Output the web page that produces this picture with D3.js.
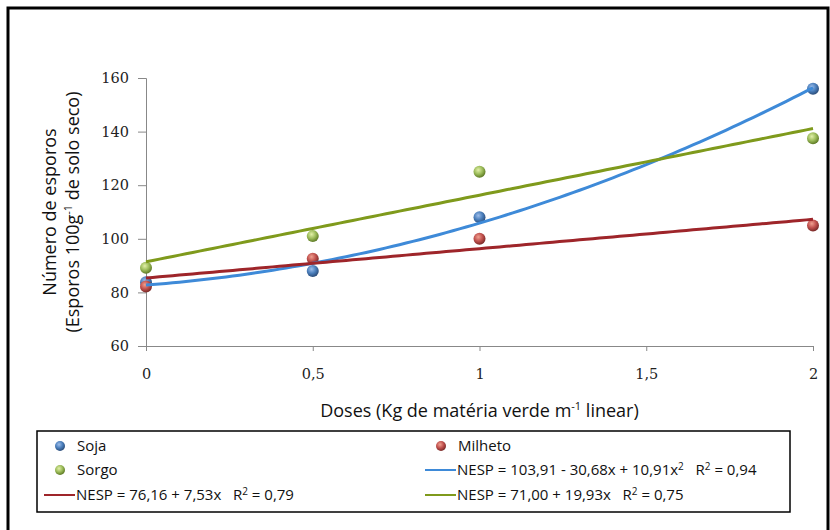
<!DOCTYPE html>
<html>
<head>
<meta charset="utf-8">
<script src="https://cdn.jsdelivr.net/npm/d3@7"></script>
<style>
  body { margin: 0; background: #fff; }
  .tick text { font-family: "DejaVu Serif", serif; font-size: 14.5px; fill: #222; }
  .axis-title { font-family: "Open Sans", sans-serif; font-size: 18px; fill: #111; }
  .legend-text { font-family: "Open Sans", sans-serif; font-size: 15px; fill: #111; }
</style>
</head>
<body>
<div id="chart"></div>
<script>
var svgWidth = 830;
var svgHeight = 530;

// data
var doses = [0, 0.5, 1, 2];
var soja = [83.8, 88, 108, 156];
var milheto = [82.2, 92.6, 100, 105];
var sorgo = [89.2, 101, 125, 137.5];

var xTicks = [0, 0.5, 1, 1.5, 2];
var yTicks = [60, 80, 100, 120, 140, 160];

var margin = { top: 78, right: 17, bottom: 184, left: 146 };
var width = svgWidth - margin.left - margin.right;
var height = svgHeight - margin.top - margin.bottom;

var svg = d3.select("#chart")
  .append("svg")
  .attr("width", svgWidth)
  .attr("height", svgHeight);

// outer frame
svg.append("rect")
  .attr("x", 8).attr("y", 8)
  .attr("width", 820).attr("height", 540)
  .attr("fill", "none")
  .attr("stroke", "#000")
  .attr("stroke-width", 3);

var defs = svg.append("defs");
function sphere(id, light, base, dark) {
  var g = defs.append("radialGradient")
    .attr("id", id)
    .attr("cx", "40%").attr("cy", "35%").attr("r", "65%");
  g.append("stop").attr("offset", "0%").attr("stop-color", light);
  g.append("stop").attr("offset", "55%").attr("stop-color", base);
  g.append("stop").attr("offset", "100%").attr("stop-color", dark);
}
sphere("gSoja", "#9dbdea", "#4a7ebb", "#2c4d7a");
sphere("gMilheto", "#f0a090", "#c0504d", "#7a2a28");
sphere("gSorgo", "#e2f0a8", "#9bbb59", "#5e7a25");

var chartGroup = svg.append("g")
  .attr("transform", `translate(${margin.left},${margin.top})`);

var xScale = d3.scaleLinear().domain([0, 2]).range([0, width]);
var yScale = d3.scaleLinear().domain([60, 160]).range([height, 0]);

var bottomAxis = d3.axisBottom(xScale)
  .tickValues(xTicks)
  .tickSize(5)
  .tickPadding(18)
  .tickFormat(d => String(d).replace(".", ","));
var leftAxis = d3.axisLeft(yScale)
  .tickValues(yTicks)
  .tickSize(8)
  .tickPadding(9);

var xAxis = chartGroup.append("g")
  .attr("transform", `translate(0, ${height})`)
  .call(bottomAxis);
var yAxis = chartGroup.append("g")
  .call(leftAxis);

[xAxis, yAxis].forEach(a => {
  a.select(".domain").attr("stroke", "#888");
  a.selectAll(".tick line").attr("stroke", "#888");
});

// least squares polynomial fit
function polyfit(xs, ys, deg) {
  var n = deg + 1;
  var A = [];
  for (var i = 0; i < n; i++) {
    A.push([]);
    for (var j = 0; j < n; j++) A[i].push(d3.sum(xs, x => Math.pow(x, i + j)));
    A[i].push(d3.sum(xs, (x, k) => Math.pow(x, i) * ys[k]));
  }
  for (var c = 0; c < n; c++) {
    for (var r = c + 1; r < n; r++) {
      var f = A[r][c] / A[c][c];
      for (var k = c; k <= n; k++) A[r][k] -= f * A[c][k];
    }
  }
  var coef = new Array(n).fill(0);
  for (var r2 = n - 1; r2 >= 0; r2--) {
    var s = A[r2][n];
    for (var k2 = r2 + 1; k2 < n; k2++) s -= A[r2][k2] * coef[k2];
    coef[r2] = s / A[r2][r2];
  }
  return x => coef.reduce((acc, cf, p) => acc + cf * Math.pow(x, p), 0);
}

var series = [
  { name: "Soja", values: soja, deg: 2, line: "#3e8ad8", fill: "url(#gSoja)" },
  { name: "Milheto", values: milheto, deg: 1, line: "#9e252a", fill: "url(#gMilheto)" },
  { name: "Sorgo", values: sorgo, deg: 1, line: "#7f9a1c", fill: "url(#gSorgo)" }
];

var lineGen = d3.line()
  .x(d => xScale(d[0]))
  .y(d => yScale(d[1]));

var samples = d3.range(0, 2.0001, 0.02);

// points first, trend lines drawn over them
var drawOrder = [series[0], series[2], series[1]];
drawOrder.forEach(s => {
  chartGroup.selectAll(null)
    .data(doses)
    .enter()
    .append("circle")
    .attr("cx", d => xScale(d))
    .attr("cy", (d, i) => yScale(s.values[i]))
    .attr("r", 6)
    .attr("fill", s.fill);
});

drawOrder.forEach(s => {
  var f = polyfit(doses, s.values, s.deg);
  chartGroup.append("path")
    .datum(samples.map(x => [x, f(x)]))
    .attr("d", lineGen)
    .attr("fill", "none")
    .attr("stroke", s.line)
    .attr("stroke-width", 3);
});

// axis titles
var xTitle = svg.append("text")
  .attr("class", "axis-title")
  .attr("x", margin.left + width / 2)
  .attr("y", 417)
  .attr("text-anchor", "middle");
xTitle.append("tspan").text("Doses (Kg de matéria verde m");
xTitle.append("tspan").attr("dy", -7).attr("font-size", "11px").text("-1");
xTitle.append("tspan").attr("dy", 7).text(" linear)");

var yTitle = svg.append("g")
  .attr("transform", "translate(56, 212) rotate(-90)");
yTitle.append("text")
  .attr("class", "axis-title")
  .attr("text-anchor", "middle")
  .text("Número de esporos");
var yTitle2 = yTitle.append("text")
  .attr("class", "axis-title")
  .attr("y", 23)
  .attr("text-anchor", "middle");
yTitle2.append("tspan").text("(Esporos 100g");
yTitle2.append("tspan").attr("dy", -7).attr("font-size", "11px").text("-1");
yTitle2.append("tspan").attr("dy", 7).text(" de solo seco)");

// legend
var legend = svg.append("g");
legend.append("rect")
  .attr("x", 37).attr("y", 431)
  .attr("width", 753).attr("height", 81)
  .attr("fill", "#fff")
  .attr("stroke", "#000")
  .attr("stroke-width", 1.5);

var legendMarkers = [
  { label: "Soja", fill: "url(#gSoja)", x: 60, y: 446 },
  { label: "Sorgo", fill: "url(#gSorgo)", x: 60, y: 470 },
  { label: "Milheto", fill: "url(#gMilheto)", x: 441, y: 446 }
];
legendMarkers.forEach(m => {
  legend.append("circle")
    .attr("cx", m.x).attr("cy", m.y).attr("r", 5)
    .attr("fill", m.fill);
  legend.append("text")
    .attr("class", "legend-text")
    .attr("x", m.x + 17).attr("y", m.y + 5)
    .text(m.label);
});

var legendLines = [
  { color: "#3e8ad8", x: 425, y: 470,
    parts: [["NESP = 103,91 - 30,68x + 10,91x", 0], ["2", 1], ["   R", 0], ["2", 1], [" = 0,94", 0]] },
  { color: "#9e252a", x: 44, y: 495,
    parts: [["NESP = 76,16 + 7,53x   R", 0], ["2", 1], [" = 0,79", 0]] },
  { color: "#7f9a1c", x: 425, y: 495,
    parts: [["NESP = 71,00 + 19,93x   R", 0], ["2", 1], [" = 0,75", 0]] }
];
legendLines.forEach(l => {
  legend.append("line")
    .attr("x1", l.x).attr("x2", l.x + 31)
    .attr("y1", l.y).attr("y2", l.y)
    .attr("stroke", l.color)
    .attr("stroke-width", 2);
  var t = legend.append("text")
    .attr("class", "legend-text")
    .attr("x", l.x + 32).attr("y", l.y + 5)
    .attr("xml:space", "preserve")
    .style("white-space", "pre");
  var up = false;
  l.parts.forEach(p => {
    var ts = t.append("tspan").text(p[0]);
    if (p[1] && !up) { ts.attr("dy", -5).attr("font-size", "10px"); up = true; }
    else if (!p[1] && up) { ts.attr("dy", 5); up = false; }
  });
});
</script>
</body>
</html>
